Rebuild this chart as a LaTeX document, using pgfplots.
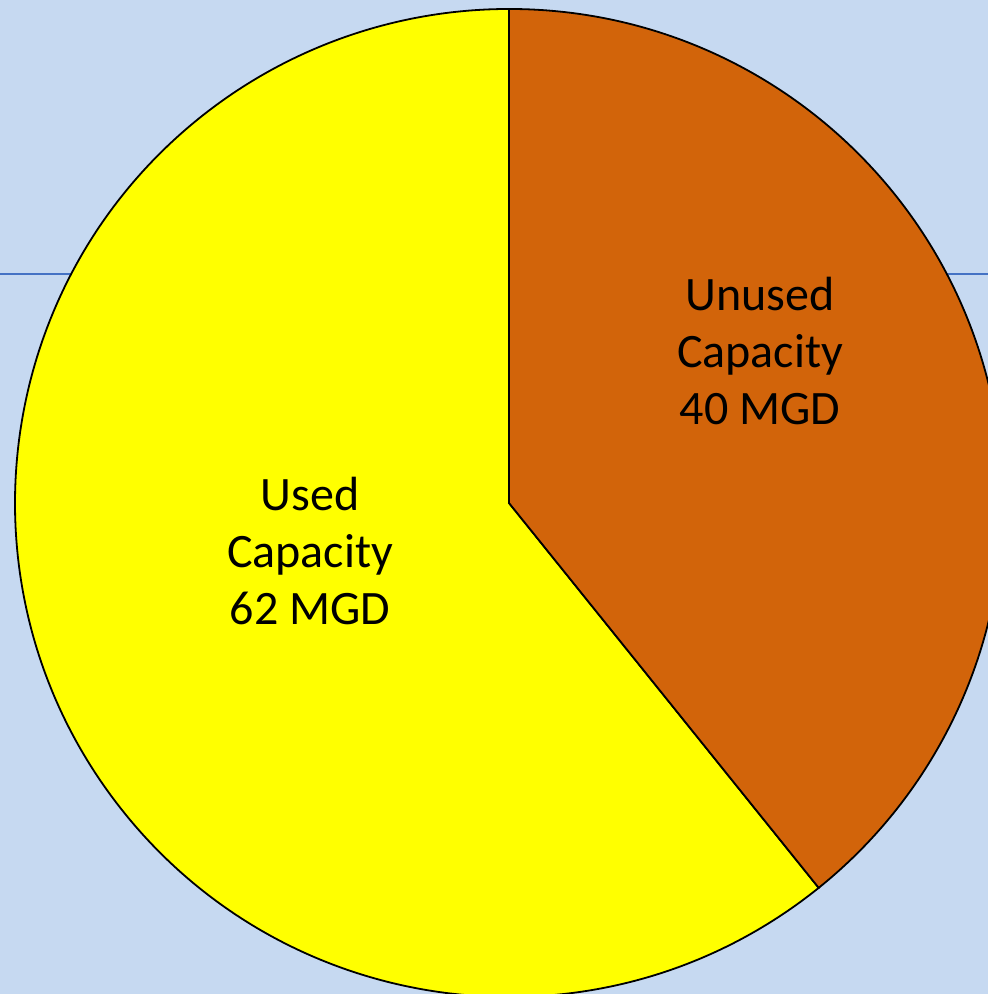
\documentclass[border=0pt]{standalone}
\usepackage{pgfplots}
\usepackage{pgfplotstable}
\pgfplotsset{compat=1.18}
\usepackage{fontspec}
\setmainfont{Carlito}
\definecolor{bgblue}{HTML}{C6D9F1}
\definecolor{lineblue}{HTML}{4472C4}
\definecolor{pieorange}{HTML}{D2640A}
\definecolor{pieyellow}{HTML}{FFFF00}
\pgfplotstableread{
label value
Unused 40
Used 62
}\piedata
\begin{document}
\begin{tikzpicture}
\pgfplotstablegetelem{0}{value}\of\piedata \let\vunused\pgfplotsretval
\pgfplotstablegetelem{1}{value}\of\piedata \let\vused\pgfplotsretval
\pgfmathsetmacro\endang{90-360*\vunused/(\vunused+\vused)}
\def\R{247pt}
\begin{axis}[
  x=0.5pt, y=0.5pt,
  xmin=0, xmax=988, ymin=0, ymax=994,
  hide axis, clip=true,
  clip bounding box=upper bound,
]
\fill[bgblue] (rel axis cs:0,0) rectangle (rel axis cs:1,1);
\addplot[lineblue, line width=0.8pt, no marks] coordinates {(0,720) (988,720)};
\draw[black, line width=0.9pt, fill=pieyellow] (axis cs:509,491) -- ++(\endang:\R) arc[start angle=\endang, end angle=-270, radius=\R] -- cycle;
\draw[black, line width=0.9pt, fill=pieorange] (axis cs:509,491) -- ++(90:\R) arc[start angle=90, end angle=\endang, radius=\R] -- cycle;
\node[align=center, font=\fontsize{24}{28.5}\selectfont, text=black] at (axis cs:760,643) {Unused\\Capacity\\40 MGD};
\node[align=center, font=\fontsize{24}{28.5}\selectfont, text=black] at (axis cs:310,443) {Used\\Capacity\\62 MGD};
\coordinate (sw) at (rel axis cs:0,0);
\coordinate (ne) at (rel axis cs:1,1);
\end{axis}
\pgfresetboundingbox
\useasboundingbox (sw) rectangle (ne);
\end{tikzpicture}
\end{document}
